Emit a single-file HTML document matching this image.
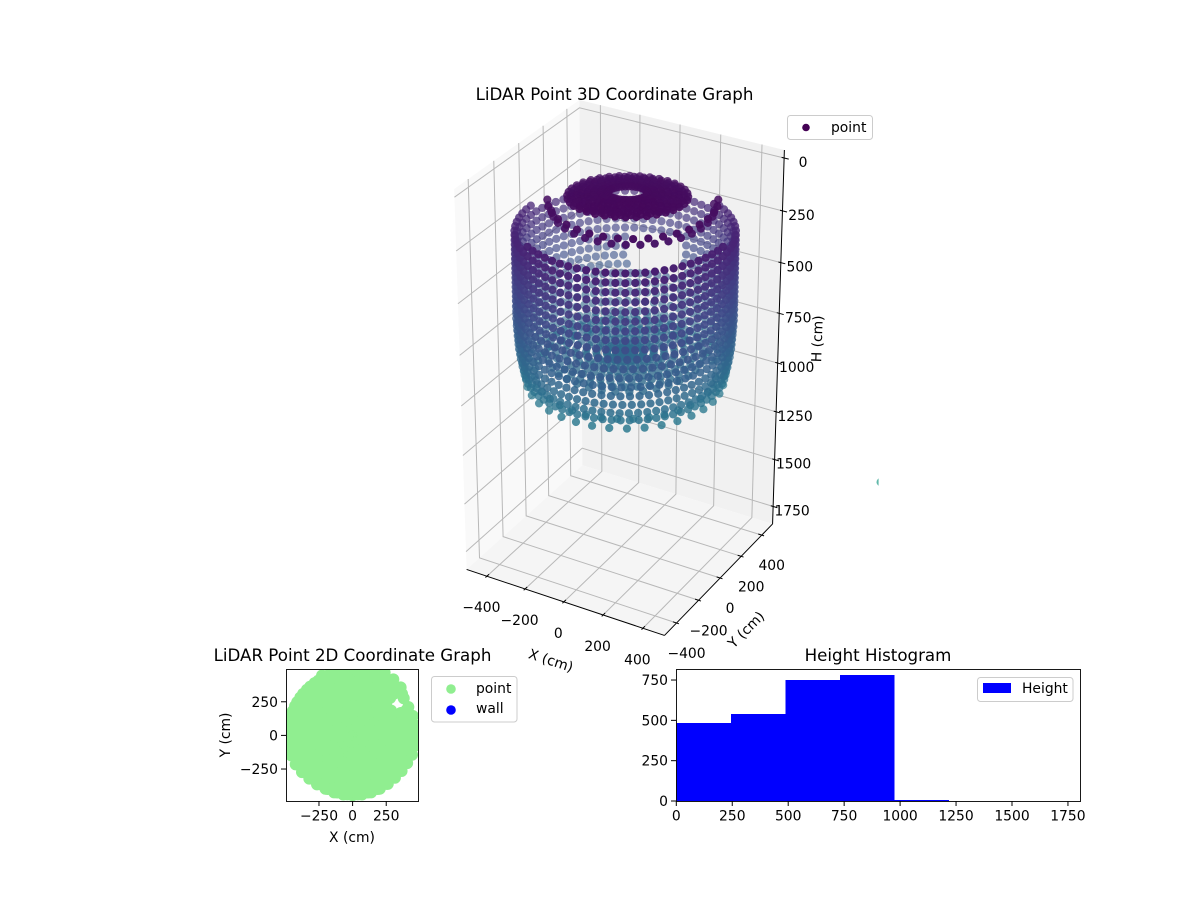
<!DOCTYPE html>
<html>
<head>
<meta charset="utf-8">
<title>LiDAR Point Graphs</title>
<style>
html,body{margin:0;padding:0;background:#fff;}
svg{display:block;font-family:"DejaVu Sans","Liberation Sans",sans-serif;fill:#000;}
</style>
</head>
<body>
<svg id="fig" xmlns="http://www.w3.org/2000/svg" width="1200" height="900" viewBox="0 0 1200 900">
  <defs>
    <clipPath id="clip3d"><rect x="351" y="60" width="527.6" height="600"/></clipPath>
    <clipPath id="clip2d"><rect x="286" y="669" width="132" height="132"/></clipPath>
    <clipPath id="cliphist"><rect x="676" y="669" width="404" height="132"/></clipPath>
  </defs>
  <g id="panes"></g>
  <g id="grid3d"></g>
  <g id="axes3d"></g>
  <g id="points3d" clip-path="url(#clip3d)"></g>
  <text x="614.5" y="100" font-size="16.67" text-anchor="middle">LiDAR Point 3D Coordinate Graph</text>
  <text transform="translate(549.5,665) rotate(18)" font-size="13.89" text-anchor="middle">X (cm)</text>
  <text transform="translate(749.5,633) rotate(-45)" font-size="13.89" text-anchor="middle">Y (cm)</text>
  <text transform="translate(822,339) rotate(-88)" font-size="13.89" text-anchor="middle">H (cm)</text>
  <g>
    <rect x="787.5" y="115.5" width="85" height="24" rx="3" fill="#fff" fill-opacity="0.8" stroke="#ccc" stroke-width="1"/>
    <circle cx="806" cy="127.5" r="3.8" fill="#440154"/>
    <text x="831" y="132" font-size="13.89">point</text>
  </g>

  <g id="scatter2d" clip-path="url(#clip2d)"></g>
  <rect x="286.5" y="669.5" width="132" height="132" fill="none" stroke="#000" stroke-width="0.9"/>
  <g id="ticks2d"></g>
  <text x="352.5" y="661" font-size="16.67" text-anchor="middle">LiDAR Point 2D Coordinate Graph</text>
  <text x="352" y="842" font-size="13.89" text-anchor="middle">X (cm)</text>
  <text transform="translate(230,735) rotate(-90)" font-size="13.89" text-anchor="middle">Y (cm)</text>
  <g>
    <rect x="431.5" y="676.5" width="85.5" height="45.5" rx="3" fill="#fff" stroke="#ccc" stroke-width="1"/>
    <circle cx="451" cy="689" r="4.8" fill="#90ee90"/>
    <circle cx="451" cy="710" r="4.8" fill="#0000ff"/>
    <text x="476" y="693" font-size="13.89">point</text>
    <text x="476" y="713" font-size="13.89">wall</text>
  </g>

  <g id="histbars" clip-path="url(#cliphist)" shape-rendering="crispEdges"></g>
  <rect x="676.5" y="669.5" width="404" height="132" fill="none" stroke="#000" stroke-width="0.9"/>
  <g id="tickshist"></g>
  <text x="878" y="661" font-size="16.67" text-anchor="middle">Height Histogram</text>
  <g>
    <rect x="977.5" y="677.5" width="95.5" height="24" rx="3" fill="#fff" fill-opacity="0.8" stroke="#ccc" stroke-width="1"/>
    <rect x="983" y="683" width="28" height="10" fill="#0000ff"/>
    <text x="1022" y="693" font-size="13.89">Height</text>
  </g>
</svg>
<script>
// ---------- chart data ----------
const wallAzimuths = [-180,-175,-170,-165,-160,-155,-150,-145,-140,-135,-130,-125,-120,-115,-110,-105,-100,-95,-90,-85,-80,-75,-70,-65,-60,-55,-50,-45,-40,-35,-30,-25,-20,-15,-10,-5,0,5,10,15,20,25,30,35,40,45,50,55,60,65,70,75,80,85,90,95,100,105,110,115,120,125,130,135,140,145,150,155,160,165,170,175];
const wallHeights = [200,245,290,335,380,425,470,515,560,605,650,695,740,785,830,875,915,960];
const wallRadii = [470,470,470,470,470,470,470,470,470,470,470,468,465,462,456,448,440,432];
const wallRowShift = [0,0,0,0,0,0,0,0,0,1,-1,2,-2,2.5,-1.5,2,-2.5,1];
const wallRowStep = [1,1,1,1,1,1,1,1,1,1,1,1,1,1,1,1,1,2];
const wallRowSpan = [60,120,180,180,180,180,180,180,180,180,180,180,180,180,180,180,180,180];
const wallFrontAzimuth = [-60];
const wallGapAzimuths = [90,95,100,105,110,115];
const wallGapHeights = [515,560,605,650];
const cloudCenterX = [18];
const floorAzimuths = [-175,-165,-155,-145,-135,-125,-115,-105,-95,-85,-75,-65,-55,-45,-35,-25,-15,-5,5,15,25,35,45,55,65,75,85,95,105,115,125,135,145,155,165,175];
const floorRadii = [0,40,80,125,170,215,260,300,340];
const floorHeights = [835,835,835,835,835,835,835,835,835];
const floorRowShift = [0,4,2,6,3,7,1,5,8];
const floorOuterAzimuths = [-175,-165,-155,-145,-135,-125,-115,-105,-95,-85,-75,-65,-55,-45,-35,-25,-15,-5,5,15,25,45,55,65,75,85,95,105,115,125,135,145,155,165,175];
const floorOuterRadius = [395];
const floorOuterHeight = [935];
const capAzimuths = [-172,-162,-152,-142,-132,-122,-112,-102,-92,-82,-72,-62,-52,-42,-32,-22,-12,-2,8,18,28,38,48,58,68,78,88,98,108,118,128,138,148,158,168,178];
const capRadii = [255,238,218,198,172,145,115,85];
const capHeights = [80,78,76,74,72,70,68,66];
const capRowShift = [0,5,2,7,3,8,4,9];
const capCenterX = [30];
const capTilt = [0.12];
const arcAzimuths = [-150,-140,-130,-120,-110,-100,-90,-80,-70,-60,-50,-40,-30,-20,-10,0,10,20,30];
const arcRadii = [360,345];
const arcHeights = [90,125];
const arcRowShift = [0,5];
const arcCenterX = [55];
const planAzimuths = [-180,-171,-162,-153,-144,-135,-126,-117,-108,-99,-90,-81,-72,-63,-54,-45,-36,-27,-18,-9,0,9,18,27,36,45,54,63,72,81,90,99,108,117,126,135,144,153,162,171];
const planRadii = [490,485,480,475,465,455,450,445,445,445,445,445,445,445,445,445,450,455,465,475,480,475,470,465,470,505,515,525,530,535,535,535,530,500,480,480,480,480,490,490];
const planFillAzimuthsInner = [-175,-165,-155,-145,-135,-125,-115,-105,-95,-85,-75,-65,-55,-45,-35,-25,-15,-5,5,15,25,45,55,65,75,85,95,105,115,125,135,145,155,165,175];
const planFillRadiusInner = [440];
const planFillAzimuthsOuter = [40,50,59,68,77,86,95,104,113,122,131,140,149,158,167,176];
const planFillRadiusOuter = [480];
const outlierX = [1115];
const outlierY = [326];
const outlierH = [1330];
const xTicks3d = [-400,-200,0,200,400];
const yTicks3d = [-400,-200,0,200,400];
const zTicks3d = [0,250,500,750,1000,1250,1500,1750];
const ticks2dX = [-250,0,250];
const ticks2dY = [-250,0,250];
const histCounts = [484,539,750,781,6,0,0,1];
const histEdges = [0,243.5,487,730.5,974,1217.5,1461,1704.5,1948];
const histTicksX = [0,250,500,750,1000,1250,1500,1750];
const histTicksY = [0,250,500,750];
const viridisStops = ['#440154','#482475','#414487','#355f8d','#2a788e','#21918c','#22a884','#44bf70','#7ad151','#bddf26','#fde725'];

// ---------- 3D axis functions ----------
const xLim3d = [-487,487], yLim3d = [-487,487], zLim3d = [0,1807];
const boxA = 0.782, boxC = 1.463, DIST = 10;
const elev = 30*Math.PI/180, azim = -60*Math.PI/180;
const W = [Math.cos(elev)*Math.cos(azim), Math.cos(elev)*Math.sin(azim), Math.sin(elev)];
const uN = Math.hypot(W[0],W[1]);
const U = [-W[1]/uN, W[0]/uN, 0];
const Vv = [W[1]*U[2]-W[2]*U[1], W[2]*U[0]-W[0]*U[2], W[0]*U[1]-W[1]*U[0]];
const dot = (a,b)=>a[0]*b[0]+a[1]*b[1]+a[2]*b[2];
const CX = 621.5, CY = 365, SCALE = 2854;
function toBox(x,y,z){
  return [
    boxA*((x-xLim3d[0])/(xLim3d[1]-xLim3d[0])-0.5),
    boxA*((y-yLim3d[0])/(yLim3d[1]-yLim3d[0])-0.5),
    boxC*(0.5-(z-zLim3d[0])/(zLim3d[1]-zLim3d[0]))
  ];
}
function project(x,y,z){
  const d = toBox(x,y,z);
  const depth = DIST-dot(W,d);
  return {px:CX+dot(U,d)/depth*SCALE, py:CY-dot(Vv,d)/depth*SCALE, depth:depth};
}
const xPad = (xLim3d[1]-xLim3d[0])/48, yPad = (yLim3d[1]-yLim3d[0])/48, zPad = (zLim3d[1]-zLim3d[0])/48;
const xA = xLim3d[0]-xPad, xB = xLim3d[1]+xPad;
const yA = yLim3d[0]-yPad, yB = yLim3d[1]+yPad;
const zTop = zLim3d[0]-zPad, zBot = zLim3d[1]+zPad;

const NS = 'http://www.w3.org/2000/svg';
function node(tag,parent){const el=document.createElementNS(NS,tag);parent.appendChild(el);return el;}
function polyPts(list){return list.map(p=>{const q=project(p[0],p[1],p[2]);return q.px.toFixed(2)+','+q.py.toFixed(2);}).join(' ');}
function fmt(v){return String(v).replace('-','\u2212');}

// panes
const paneG = document.getElementById('panes');
const leftPane = node('polygon',paneG);


leftPane.setAttribute('points', polyPts([[xA,yA,zTop],[xA,yB,zTop],[xA,yB,zBot],[xA,yA,zBot]]));
leftPane.setAttribute('fill', '#f9f9f9');
const backPane = node('polygon',paneG);


backPane.setAttribute('points', polyPts([[xA,yB,zTop],[xB,yB,zTop],[xB,yB,zBot],[xA,yB,zBot]]));
backPane.setAttribute('fill', '#f1f1f1');
const floorPane = node('polygon',paneG);


floorPane.setAttribute('points', polyPts([[xA,yA,zBot],[xB,yA,zBot],[xB,yB,zBot],[xA,yB,zBot]]));
floorPane.setAttribute('fill', '#f5f5f5');

// gridlines
const gridG = document.getElementById('grid3d');
function gridStyle(el){el.setAttribute('fill','none');el.setAttribute('stroke','#b8b8b8');el.setAttribute('stroke-width','1');}
xTicks3d.forEach(v=>{
  const g = node('polyline',gridG);
  
  
  g.setAttribute('points', polyPts([[v,yA,zBot],[v,yB,zBot],[v,yB,zTop]]));
  gridStyle(g);
});
yTicks3d.forEach(v=>{
  const g = node('polyline',gridG);
  
  
  g.setAttribute('points', polyPts([[xB,v,zBot],[xA,v,zBot],[xA,v,zTop]]));
  gridStyle(g);
});
zTicks3d.forEach(v=>{
  const g = node('polyline',gridG);
  
  
  g.setAttribute('points', polyPts([[xA,yA,v],[xA,yB,v],[xB,yB,v]]));
  gridStyle(g);
});

// axis lines, ticks, labels
const axG = document.getElementById('axes3d');
function lineStyle(el){el.setAttribute('fill','none');el.setAttribute('stroke','#000');el.setAttribute('stroke-width','1');}
const xAxisLine = node('polyline',axG);


xAxisLine.setAttribute('points', polyPts([[xA,yA,zBot],[xB,yA,zBot]]));
lineStyle(xAxisLine);
const yAxisLine = node('polyline',axG);


yAxisLine.setAttribute('points', polyPts([[xB,yA,zBot],[xB,yB,zBot]]));
lineStyle(yAxisLine);
const zAxisLine = node('polyline',axG);


zAxisLine.setAttribute('points', polyPts([[xB,yB,zBot],[xB,yB,zTop]]));
lineStyle(zAxisLine);
function tickText(parent,x,y,str,anchor){
  const t = node('text',parent);
  t.setAttribute('x',x.toFixed(1));
  t.setAttribute('y',y.toFixed(1));
  t.setAttribute('font-size','13.89');
  t.setAttribute('text-anchor',anchor);
  t.textContent = str;
  return t;
}
xTicks3d.forEach(v=>{
  const m = node('polyline',axG);
  
  
  m.setAttribute('points', polyPts([[v,yA-12,zBot],[v,yA+18,zBot]]));
  lineStyle(m);
  const p = project(v,yA,zBot);
  const t = tickText(axG,p.px-5.5,p.py+36,fmt(v),'middle');
  
  
});
yTicks3d.forEach(v=>{
  const m = node('polyline',axG);
  
  
  m.setAttribute('points', polyPts([[xB-18,v,zBot],[xB+12,v,zBot]]));
  lineStyle(m);
  const p = project(xB,v,zBot);
  const t = tickText(axG,p.px+10,p.py+35,fmt(v),'middle');
  
  
});
zTicks3d.forEach(v=>{
  const m = node('polyline',axG);
  
  
  m.setAttribute('points', polyPts([[xB-12,yB,v],[xB+22,yB,v]]));
  lineStyle(m);
  const p = project(xB,yB,v);
  const t = tickText(axG,p.px+19,p.py+9,fmt(v),'middle');
  
  
});

// ---------- assemble points from the arrays ----------
const cloud = [];
const plan = [];
function angDiff(a,b){let d=Math.abs(a-b)%360;return d>180?360-d:d;}
wallHeights.forEach((h,i)=>{
  wallAzimuths.forEach((a,j)=>{
    if(angDiff(a,wallFrontAzimuth[0])>wallRowSpan[i]) return;
    if(j%wallRowStep[i]!==0) return;
    if(wallGapHeights.indexOf(h)>=0 && wallGapAzimuths.indexOf(a)>=0) return;
    const t=(a+wallRowShift[i])*Math.PI/180;
    cloud.push([cloudCenterX[0]+wallRadii[i]*Math.cos(t),wallRadii[i]*Math.sin(t),h]);
  });
});
floorRadii.forEach((r,i)=>{
  floorAzimuths.forEach(a=>{
    const t=(a+floorRowShift[i])*Math.PI/180;
    cloud.push([cloudCenterX[0]+r*Math.cos(t),r*Math.sin(t),floorHeights[i]]);
    plan.push([r*Math.cos(t),r*Math.sin(t)]);
  });
});
floorOuterAzimuths.forEach(a=>{
  const t=a*Math.PI/180;
  const r=floorOuterRadius[0];
  cloud.push([cloudCenterX[0]+r*Math.cos(t),r*Math.sin(t),floorOuterHeight[0]]);
  plan.push([r*Math.cos(t),r*Math.sin(t)]);
});
capRadii.forEach((r,i)=>{
  capAzimuths.forEach(a=>{
    const t=(a+capRowShift[i])*Math.PI/180;
    const lean=capTilt[0]*r*Math.cos(t-wallFrontAzimuth[0]*Math.PI/180);
    cloud.push([capCenterX[0]+r*Math.cos(t),r*Math.sin(t),capHeights[i]-lean]);
  });
});
arcRadii.forEach((r,i)=>{
  arcAzimuths.forEach(a=>{
    const t=(a+arcRowShift[i])*Math.PI/180;
    cloud.push([arcCenterX[0]+r*Math.cos(t),r*Math.sin(t),arcHeights[i]]);
  });
});
planAzimuths.forEach((a,i)=>{
  const t=a*Math.PI/180;
  plan.push([planRadii[i]*Math.cos(t),planRadii[i]*Math.sin(t)]);
});
planFillAzimuthsInner.forEach(a=>{
  const t=a*Math.PI/180;
  plan.push([planFillRadiusInner[0]*Math.cos(t),planFillRadiusInner[0]*Math.sin(t)]);
});
planFillAzimuthsOuter.forEach(a=>{
  const t=a*Math.PI/180;
  plan.push([planFillRadiusOuter[0]*Math.cos(t),planFillRadiusOuter[0]*Math.sin(t)]);
});

function viridis(f){
  const s=Math.max(0,Math.min(1,f))*(viridisStops.length-1);
  const i=Math.min(Math.floor(s),viridisStops.length-2), k=s-i;
  const c=h=>[parseInt(h.slice(1,3),16),parseInt(h.slice(3,5),16),parseInt(h.slice(5,7),16)];
  const a=c(viridisStops[i]), b=c(viridisStops[i+1]);
  return 'rgb('+[0,1,2].map(j=>Math.round(a[j]+(b[j]-a[j])*k)).join(',')+')';
}
const colorMax = 2400;
const cloudProj = cloud.map(p=>Object.assign(project(p[0],p[1],p[2]),{h:p[2]}));
const dMin = Math.min.apply(null,cloudProj.map(p=>p.depth));
const dMax = Math.max.apply(null,cloudProj.map(p=>p.depth));
const proj = cloudProj.concat(outlierX.map((x,i)=>Object.assign(project(x,outlierY[i],outlierH[i]),{h:outlierH[i]})));
proj.sort((a,b)=>b.depth-a.depth);
const ptG = document.getElementById('points3d');
proj.forEach(p=>{
  const c = node('circle',ptG);
  
  
  c.setAttribute('cx', p.px.toFixed(2));
  c.setAttribute('cy', p.py.toFixed(2));
  c.setAttribute('r', '4.1');
  c.setAttribute('fill', viridis(p.h/colorMax));
  c.setAttribute('fill-opacity', (1-0.45*Math.max(0,Math.min(1,(p.depth-dMin)/(dMax-dMin)))).toFixed(3));
});

// ---------- 2D scatter ----------
const x2d = v=>352.6+v*0.1345;
const y2d = v=>735.4-v*0.1345;
const g2d = document.getElementById('scatter2d');
plan.forEach(p=>{
  const c = node('circle',g2d);
  
  
  c.setAttribute('cx', x2d(p[0]).toFixed(2));
  c.setAttribute('cy', y2d(p[1]).toFixed(2));
  c.setAttribute('r', '6');
  c.setAttribute('fill', '#90ee90');
});
const t2d = document.getElementById('ticks2d');
ticks2dX.forEach(v=>{
  const m = node('line',t2d);
  
  
  m.setAttribute('x1',x2d(v));m.setAttribute('x2',x2d(v));m.setAttribute('y1',801);m.setAttribute('y2',806);
  lineStyle(m);
  const t = tickText(t2d,x2d(v),820.5,fmt(v),'middle');
  
  
});
ticks2dY.forEach(v=>{
  const m = node('line',t2d);
  
  
  m.setAttribute('x1',281);m.setAttribute('x2',286);m.setAttribute('y1',y2d(v));m.setAttribute('y2',y2d(v));
  lineStyle(m);
  const t = tickText(t2d,278,y2d(v)+5,fmt(v),'end');
  
  
});

// ---------- histogram ----------
const xHist = v=>676.3+v*0.2238;
const yHist = v=>801-v*0.1613;
const hG = document.getElementById('histbars');
histCounts.forEach((n,i)=>{
  const r = node('rect',hG);
  
  
  r.setAttribute('x', xHist(histEdges[i]).toFixed(2));
  r.setAttribute('width', (xHist(histEdges[i+1])-xHist(histEdges[i])).toFixed(2));
  r.setAttribute('y', yHist(n).toFixed(2));
  r.setAttribute('height', (801-yHist(n)).toFixed(2));
  r.setAttribute('fill', '#0000ff');
});
const tH = document.getElementById('tickshist');
histTicksX.forEach(v=>{
  const m = node('line',tH);
  
  
  m.setAttribute('x1',xHist(v));m.setAttribute('x2',xHist(v));m.setAttribute('y1',801);m.setAttribute('y2',806);
  lineStyle(m);
  const t = tickText(tH,xHist(v),820.5,fmt(v),'middle');
  
  
});
histTicksY.forEach(v=>{
  const m = node('line',tH);
  
  
  m.setAttribute('x1',671);m.setAttribute('x2',676);m.setAttribute('y1',yHist(v));m.setAttribute('y2',yHist(v));
  lineStyle(m);
  const t = tickText(tH,668,yHist(v)+5,fmt(v),'end');
  
  
});
</script>
</body>
</html>
